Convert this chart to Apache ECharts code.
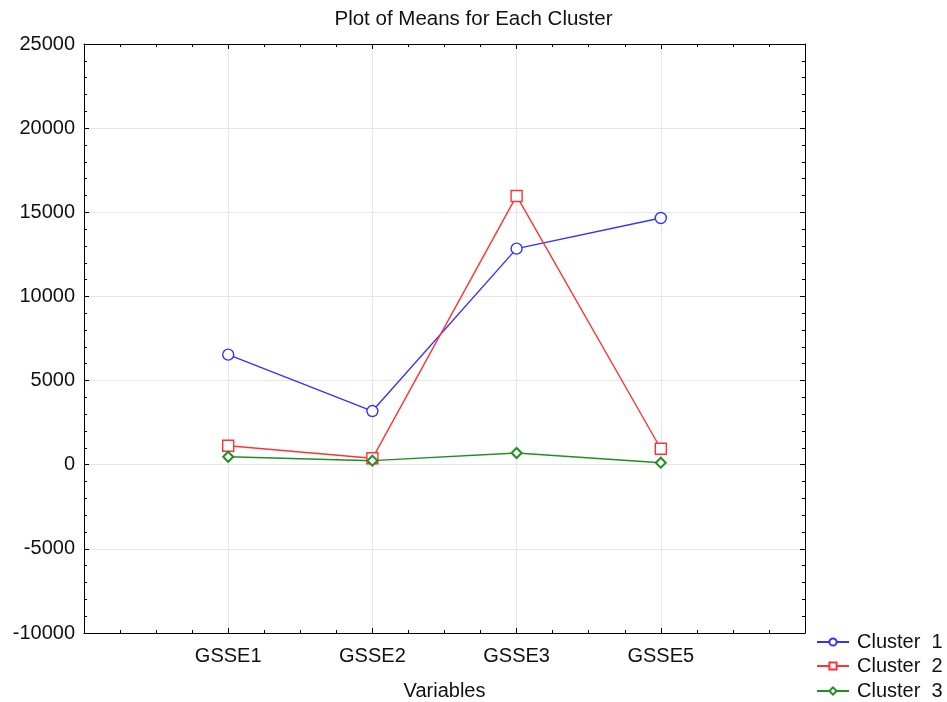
<!DOCTYPE html>
<html><head><meta charset="utf-8">
<script src="https://cdn.jsdelivr.net/npm/echarts@6/dist/echarts.min.js"></script>
<style>html,body{margin:0;padding:0;background:#fff}#c{width:947px;height:702px}</style>
</head><body><div id="c"></div>
<script>
const categories = ['GSSE1', 'GSSE2', 'GSSE3', 'GSSE5'];
const cluster1 = [6540, 3190, 12840, 14660];
const cluster2 = [1130, 380, 15970, 950];
const cluster3 = [475, 240, 695, 120];
const seriesNames = ['Cluster  1', 'Cluster  2', 'Cluster  3'];
const yTicks = [-10000, -5000, 0, 5000, 10000, 15000, 20000, 25000];

const chart = echarts.init(document.getElementById('c'), null, {renderer: 'canvas'});
const toPts = arr => arr.map((v, i) => [i + 1, v]);
const font = 'Arial, "Liberation Sans", sans-serif';
const axisBase = {
  axisLine: {show: true, onZero: false, lineStyle: {color: '#000', width: 1}},
  axisTick: {show: true, inside: true, length: 5, lineStyle: {color: '#000'}},
  minorTick: {show: true, splitNumber: 4, length: 3, lineStyle: {color: '#000'}},
};
const colors = ['#3333ff', '#ff3333', '#1f8f1f'];
const legendTops = [627, 651, 676];
chart.setOption({
  animation: false,
  backgroundColor: '#fff',
  title: {text: 'Plot of Means for Each Cluster', left: 'center', top: 4,
    textStyle: {fontFamily: font, fontSize: 20.5, fontWeight: 'normal', color: '#111'}},
  grid: {left: 84, top: 44, right: 142, bottom: 69, outerBoundsMode: 'none', containLabel: false},
  legend: seriesNames.map((n, i) => ({
    orient: 'vertical', left: 811, top: legendTops[i], itemWidth: 32, itemHeight: 9,
    data: [n],
    textStyle: {fontFamily: font, fontSize: 20, lineHeight: 20, color: '#111', padding: [0, 0, 0, 3]}})),
  xAxis: [
    Object.assign({}, axisBase, {type: 'value', min: 0, max: 5, interval: 1, position: 'bottom',
      name: 'Variables', nameLocation: 'middle', nameGap: 48,
      nameTextStyle: {fontFamily: font, fontSize: 20, color: '#111'},
      axisLabel: {fontFamily: font, fontSize: 20, color: '#111', margin: 13,
        formatter: v => (v >= 1 && v <= categories.length) ? categories[v - 1] : ''},
      splitLine: {show: true, lineStyle: {color: '#e6e6e6'}}}),
    Object.assign({}, axisBase, {type: 'value', min: 0, max: 5, interval: 1, position: 'top',
      axisLabel: {show: false}, splitLine: {show: false}})
  ],
  yAxis: [
    Object.assign({}, axisBase, {type: 'value', min: yTicks[0], max: yTicks[yTicks.length - 1], interval: 5000,
      position: 'left',
      minorTick: {show: true, splitNumber: 5, length: 3, lineStyle: {color: '#000'}},
      axisLabel: {fontFamily: font, fontSize: 20, color: '#111', margin: 9, formatter: v => String(v)},
      splitLine: {show: true, lineStyle: {color: '#e6e6e6'}}}),
    Object.assign({}, axisBase, {type: 'value', min: yTicks[0], max: yTicks[yTicks.length - 1], interval: 5000,
      position: 'right',
      minorTick: {show: true, splitNumber: 5, length: 3, lineStyle: {color: '#000'}},
      axisLabel: {show: false}, splitLine: {show: false}})
  ],
  series: [
    {name: seriesNames[0], type: 'line', data: toPts(cluster1),
      symbol: 'circle', symbolSize: 11, lineStyle: {width: 1.4, color: colors[0]},
      itemStyle: {color: '#fff', borderColor: colors[0], borderWidth: 1.4}},
    {name: seriesNames[1], type: 'line', data: toPts(cluster2),
      symbol: 'rect', symbolSize: 11, lineStyle: {width: 1.4, color: colors[1]},
      itemStyle: {color: '#fff', borderColor: colors[1], borderWidth: 1.4}},
    {name: seriesNames[2], type: 'line', data: toPts(cluster3),
      symbol: 'diamond', symbolSize: 10, lineStyle: {width: 1.4, color: colors[2]},
      itemStyle: {color: '#fff', borderColor: colors[2], borderWidth: 2}}
  ]
});
</script></body></html>
